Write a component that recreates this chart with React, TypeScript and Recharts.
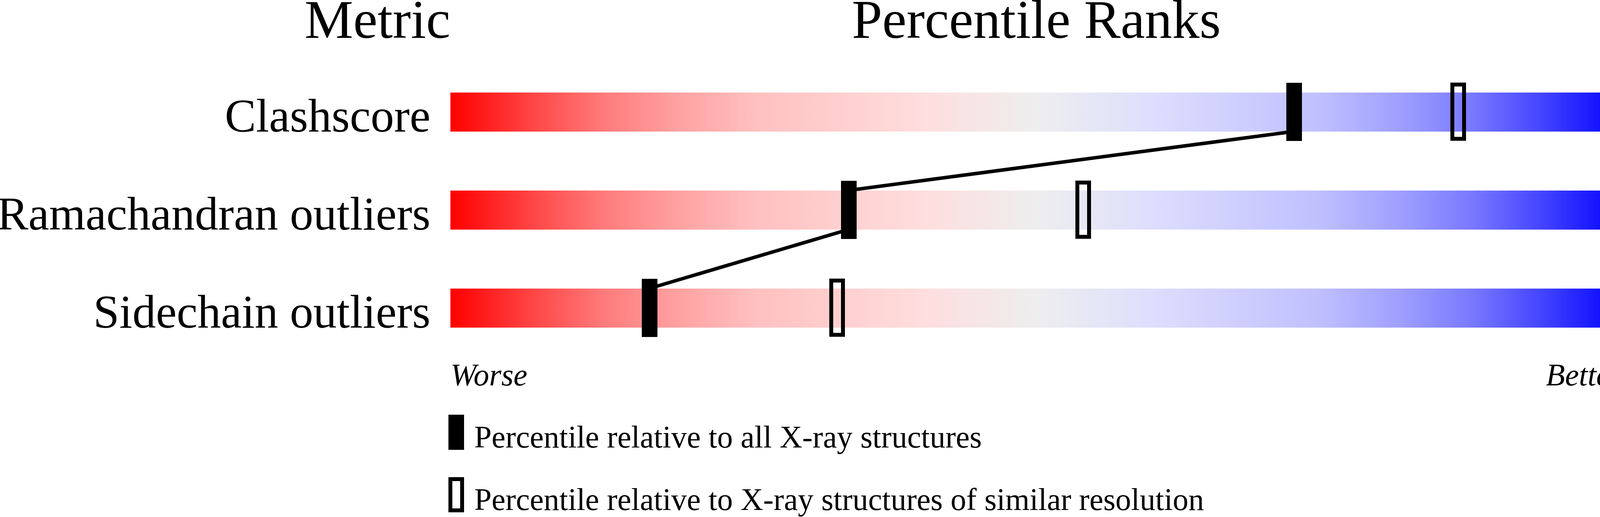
import { ComposedChart, Bar, Scatter, XAxis, YAxis, Legend, LabelList } from 'recharts'

const metrics = ['Clashscore', 'Ramachandran outliers', 'Sidechain outliers']
const allXrayPercentile = [72, 34, 17]
const similarResPercentile = [86, 54, 33]
const rawValues = ['3', '0.4%', '6.5%']
const scaleEnds = ['Worse', 'Better']
const scaleMax = 100
const seriesNames = [
  'Percentile relative to all X-ray structures',
  'Percentile relative to X-ray structures of similar resolution',
]

const data = metrics.map((metric, i) => ({
  metric,
  full: scaleMax,
  all: allXrayPercentile[i],
  similar: similarResPercentile[i],
  value: rawValues[i],
}))

const FONT = '"Liberation Serif", "Times New Roman", Times, serif'
const BAR_H = 100

// red -> grey -> blue, lightens quickly away from the ends
const gradientStops: [number, string][] = [
  [0, '#ff0000'],
  [0.07, '#ff4545'],
  [0.13, '#ff7a7a'],
  [0.19, '#ff9f9f'],
  [0.26, '#ffc0c0'],
  [0.4, '#ffdddd'],
  [0.5, '#eeeeee'],
  [0.6, '#dddefd'],
  [0.74, '#c0c0ff'],
  [0.81, '#9f9fff'],
  [0.87, '#7a7aff'],
  [0.93, '#4545ff'],
  [1, '#0000ff'],
]

// eslint-disable-next-line @typescript-eslint/no-explicit-any
function MetricTick({ x, y, payload }: any) {
  return (
    <text x={x} y={y + BAR_H / 2} textAnchor="end" fontFamily={FONT} fontSize={120} fill="#000">
      {payload.value}
    </text>
  )
}

// eslint-disable-next-line @typescript-eslint/no-explicit-any
function EndTick({ x, y, index }: any) {
  return (
    <text
      x={x}
      y={y + 73}
      textAnchor={index === 0 ? 'start' : 'end'}
      fontFamily={FONT}
      fontStyle="italic"
      fontSize={80}
      fill="#000"
    >
      {scaleEnds[index]}
    </text>
  )
}

// eslint-disable-next-line @typescript-eslint/no-explicit-any
function ValueLabel(props: any) {
  const { x, y, width, height, value } = props
  return (
    <text x={x + width + 55} y={y + height} fontFamily={FONT} fontSize={120} fill="#000">
      {value}
    </text>
  )
}

// eslint-disable-next-line @typescript-eslint/no-explicit-any
function FilledMarker({ cx, cy }: any) {
  return <rect x={cx - 20} y={cy - 74.5} width={40} height={149} fill="#000" />
}

// eslint-disable-next-line @typescript-eslint/no-explicit-any
function OpenMarker({ cx, cy }: any) {
  return <rect x={cx - 15} y={cy - 70} width={30} height={139} fill="none" stroke="#000" strokeWidth={10} />
}

// joins each marker from the bottom of its bar to the top of the next bar down
// eslint-disable-next-line @typescript-eslint/no-explicit-any
function rankLine(props: any) {
  const pts = (props.points || []) as { x: number; y: number }[]
  let d = ''
  for (let i = 0; i < pts.length - 1; i++) {
    d += `M${pts[i].x},${pts[i].y + BAR_H / 2}L${pts[i + 1].x},${pts[i + 1].y - BAR_H / 2}`
  }
  return <path d={d} stroke="#000" strokeWidth={9} fill="none" />
}

// eslint-disable-next-line @typescript-eslint/no-explicit-any
function LegendContent({ payload }: any) {
  const items = (payload || [])
    // eslint-disable-next-line @typescript-eslint/no-explicit-any
    .filter((e: any) => seriesNames.includes(e.value))
    // eslint-disable-next-line @typescript-eslint/no-explicit-any
    .sort((a: any, b: any) => seriesNames.indexOf(a.value) - seriesNames.indexOf(b.value))
  return (
    <svg width={2500} height={262} style={{ display: 'block' }}>
      {/* eslint-disable-next-line @typescript-eslint/no-explicit-any */}
      {items.map((entry: any, i: number) => {
        const top = i * 160
        return (
          <g key={entry.value}>
            {seriesNames.indexOf(entry.value) === 0 ? (
              <rect x={0} y={top} width={40} height={90} fill="#000" />
            ) : (
              <rect x={5} y={top + 5} width={30} height={80} fill="none" stroke="#000" strokeWidth={10} />
            )}
            <text x={66} y={top + 84} fontFamily={FONT} fontSize={80} fill="#000">
              {entry.value}
            </text>
          </g>
        )
      })}
    </svg>
  )
}

export default function App() {
  return (
    <div
      style={{
        position: 'absolute',
        left: 0,
        top: 0,
        width: 4485,
        height: 1324,
        overflow: 'hidden',
        background: '#fff',
      }}
    >
      <ComposedChart
        width={4485}
        height={1324}
        layout="vertical"
        data={data}
        margin={{ top: 161, right: 332, bottom: 310, left: 0 }}
      >
        <defs>
          <linearGradient id="rankGradient" x1="0" y1="0" x2="1" y2="0">
            {gradientStops.map(([o, c]) => (
              <stop key={o} offset={o} stopColor={c} />
            ))}
          </linearGradient>
        </defs>
        <XAxis
          type="number"
          domain={[0, scaleMax]}
          ticks={[0, scaleMax]}
          height={100}
          axisLine={false}
          tickLine={false}
          tickSize={0}
          tickMargin={0}
          tick={<EndTick />}
        />
        <YAxis
          type="category"
          dataKey="metric"
          width={1153}
          axisLine={false}
          tickLine={false}
          tickSize={0}
          tickMargin={51}
          interval={0}
          tick={<MetricTick />}
        />
        <Legend
          layout="horizontal"
          verticalAlign="middle"
          align="center"
          width={2500}
          height={262}
          wrapperStyle={{ left: 1148, top: 1062, width: 2500, height: 262 }}
          content={<LegendContent />}
        />
        <Bar dataKey="full" barSize={BAR_H} fill="url(#rankGradient)" isAnimationActive={false} legendType="none">
          <LabelList dataKey="value" content={<ValueLabel />} />
        </Bar>
        <Scatter
          name={seriesNames[0]}
          dataKey="all"
          fill="#000"
          line={rankLine}
          shape={<FilledMarker />}
          isAnimationActive={false}
        />
        <Scatter
          name={seriesNames[1]}
          dataKey="similar"
          fill="#000"
          shape={<OpenMarker />}
          isAnimationActive={false}
        />
        <text x={1153} y={97} textAnchor="end" fontFamily={FONT} fontSize={140} fill="#000">
          Metric
        </text>
        <text x={2653} y={97} textAnchor="middle" fontFamily={FONT} fontSize={140} fill="#000">
          Percentile Ranks
        </text>
        <text x={4155} y={97} textAnchor="start" fontFamily={FONT} fontSize={140} fill="#000">
          Value
        </text>
      </ComposedChart>
    </div>
  )
}
